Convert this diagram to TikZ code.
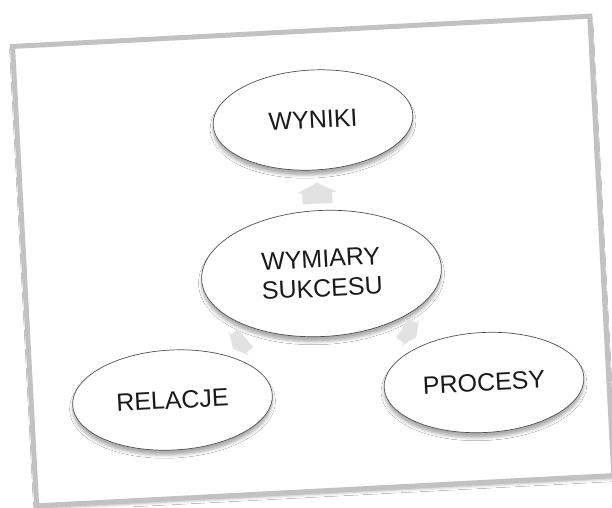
\documentclass[tikz,border=0pt]{standalone}
\usepackage{fontspec}
\setmainfont{Liberation Sans}
\usetikzlibrary{shapes.geometric,shadows.blur,calc}
\definecolor{framegray}{HTML}{C2C2C2}
\definecolor{edgegray}{HTML}{505050}
\definecolor{arrowgray}{HTML}{E2E2E2}
\definecolor{textdark}{HTML}{1A1A1A}
\begin{document}
\begin{tikzpicture}[x=1pt,y=-1pt,
  bubble/.style={ellipse, draw=edgegray, line width=0.7pt, fill=white,
    text=textdark, font=\fontsize{25}{29.5}\selectfont, align=center,
    minimum width=200pt, minimum height=100pt, inner sep=0pt, rotate=3,
    blur shadow={shadow xshift=0pt, shadow yshift=-5pt, shadow blur radius=3pt, shadow opacity=32}},
  blockarrow/.style={fill=arrowgray},
  photoframe/.style={draw=framegray, fill=white, line width=5pt, inner sep=0pt, rotate=3,
    blur shadow={shadow xshift=0pt, shadow yshift=-3pt, shadow blur radius=3pt, shadow opacity=30}}]
\useasboundingbox (0,0) rectangle (612,507);
\fill[white] (0,0) rectangle (612,507);
\node[photoframe, minimum width=578pt, minimum height=460pt] (frame) at (313.2,261) {};
\node[bubble] (wyniki) at (313,120) {WYNIKI};
\node[bubble, minimum width=240pt, minimum height=126pt] (center) at (321.5,273.5) {WYMIARY\\SUKCESU};
\node[bubble] (relacje) at (172.5,400) {RELACJE};
\node[bubble] (procesy) at (484,382.5) {PROCESY};
\coordinate (au) at ($(center)!0.52!(wyniki)$);
\coordinate (al) at ($(center)!0.55!(relacje)$);
\coordinate (ar) at ($(center)!0.54!(procesy)$);
\begin{scope}[shift={(au)}, rotate=93]
  \fill[blockarrow] (11,0) -- (1,20) -- (1,15) -- (-10,15) -- (-10,-15) -- (1,-15) -- (1,-20) -- cycle;
\end{scope}
\begin{scope}[shift={(al)}, rotate=220, scale=0.78]
  \fill[blockarrow] (11,0) -- (1,20) -- (1,15) -- (-10,15) -- (-10,-15) -- (1,-15) -- (1,-20) -- cycle;
\end{scope}
\begin{scope}[shift={(ar)}, rotate=-34, scale=0.78]
  \fill[blockarrow] (11,0) -- (1,20) -- (1,15) -- (-10,15) -- (-10,-15) -- (1,-15) -- (1,-20) -- cycle;
\end{scope}
\end{tikzpicture}
\end{document}
